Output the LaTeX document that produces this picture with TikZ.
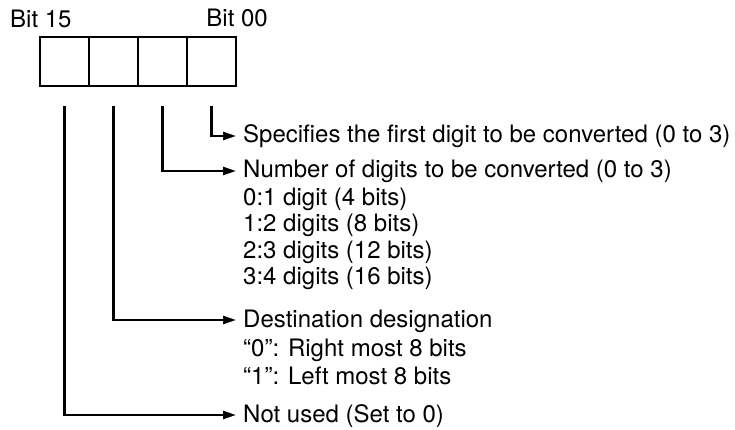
\documentclass[tikz,border=0pt]{standalone}
\usepackage{fontspec}
\setmainfont{TeX Gyre Heros}
\usetikzlibrary{arrows.meta, positioning}

\begin{document}
\begin{tikzpicture}[
		x=1pt, y=-1pt,
		>={Triangle[length=13pt, width=8pt]},
		cell/.style={draw, line width=2.4pt, minimum width=49pt, minimum height=49pt,
			inner sep=0pt, outer sep=0pt},
		lbl/.style={inner sep=0pt, font=\fontsize{24}{26}\selectfont,
			text height=19pt, text depth=5pt, anchor=west},
		sub/.style={lbl, anchor=north west},
		arr/.style={->, line width=2.4pt, shorten >=7pt},
	]
		\useasboundingbox (0,0) rectangle (735,430);

		% Word of four digits
		\node[cell] (c1) at (64.5,61.5) {};
		\node[cell, right=0pt of c1] (c2) {};
		\node[cell, right=0pt of c2] (c3) {};
		\node[cell, right=0pt of c3] (c4) {};

		% Bit numbers
		\node[lbl] (b15) at (10,21) {Bit 15};
		\node[lbl, anchor=east] (b00) at (268,20) {Bit 00};

		% Descriptions
		\node[lbl] (first) at (243,136) {Specifies the first digit to be converted (0 to 3)};

		\node[lbl] (num) at (243,171) {Number of digits to be converted (0 to 3)};
		\node[sub] (n0) at ([yshift=-3pt]num.south west) {0:1 digit (4 bits)};
		\node[sub] (n1) at ([yshift=-2pt]n0.south west) {1:2 digits (8 bits)};
		\node[sub] (n2) at ([yshift=-2pt]n1.south west) {2:3 digits (12 bits)};
		\node[sub] (n3) at ([yshift=-2pt]n2.south west) {3:4 digits (16 bits)};

		\node[lbl] (dest) at (243,320) {Destination designation};
		\node[sub] (d0) at ([yshift=-5pt]dest.south west) {“0”: Right most 8 bits};
		\node[sub] (d1) at ([yshift=-4pt]d0.south west) {“1”: Left most 8 bits};

		\node[lbl] (unused) at (243,415) {Not used (Set to 0)};

		% Arrows
		\draw[arr] ([yshift=-20pt]c4.south) |- (first.west);
		\draw[arr] ([yshift=-20pt]c3.south) |- (num.west);
		\draw[arr] ([yshift=-20pt]c2.south) |- (dest.west);
		\draw[arr] ([yshift=-20pt]c1.south) |- (unused.west);
	\end{tikzpicture}
\end{document}
